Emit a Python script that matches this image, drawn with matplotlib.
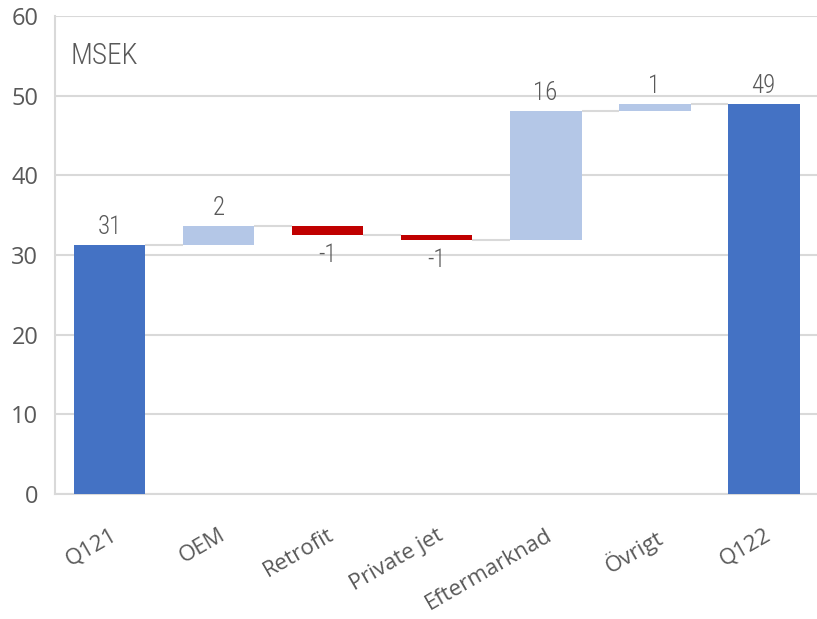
import matplotlib.pyplot as plt
from matplotlib import font_manager
import numpy as np

categories = ["Q121", "OEM", "Retrofit", "Private jet", "Eftermarknad", "Övrigt", "Q122"]
start_value = 31.3
deltas = [2.4, -1.2, -0.6, 16.2, 0.9]
end_value = 49.0
labels = ["31", "2", "-1", "-1", "16", "1", "49"]

total_color = "#4472C4"
up_color = "#B4C7E7"
down_color = "#C00000"
text_color = "#595959"
grid_color = "#D9D9D9"

# pick a narrow font for the data labels / unit text if one is installed
installed = {f.name for f in font_manager.fontManager.ttflist}
narrow = "Open Sans"
for cand in ["Liberation Sans Narrow", "Roboto Condensed", "Open Sans Condensed", "Noto Sans Display"]:
    if cand in installed:
        narrow = cand
        break

# running totals for the floating bars
running = np.concatenate([[start_value], start_value + np.cumsum(deltas)])
bottoms = [0] + list(np.minimum(running[:-1], running[1:])) + [0]
heights = [start_value] + [abs(d) for d in deltas] + [end_value]
colors = [total_color] + [up_color if d > 0 else down_color for d in deltas] + [total_color]
levels = list(running) + [end_value]

fig = plt.figure(figsize=(8.17, 6.19), dpi=100)
ax = fig.add_axes([0.0673, 0.202, 0.934, 0.772])

x = np.arange(len(categories))
width = 0.66
ax.bar(x, heights, bottom=bottoms, width=width, color=colors, zorder=3)

# connectors between bars
for i in range(len(categories) - 1):
    ax.hlines(levels[i], x[i] + width / 2, x[i + 1] - width / 2,
              color=grid_color, linewidth=1.5, zorder=2)

# value labels
lab_kw = dict(textcoords="offset points", ha="center", fontsize=18, color=text_color,
              family=narrow, fontstretch="condensed", fontweight="light")
for i in range(len(categories)):
    top = bottoms[i] + heights[i]
    is_neg = 0 < i < len(categories) - 1 and deltas[i - 1] < 0
    if is_neg:
        ax.annotate(labels[i], (x[i], bottoms[i]), xytext=(0, -6), va="top", **lab_kw)
    else:
        ax.annotate(labels[i], (x[i], top), xytext=(0, 4), va="bottom", **lab_kw)

ax.set_xlim(-0.5, len(categories) - 0.5)
ax.set_ylim(0, 60)
ax.set_yticks(np.arange(0, 61, 10))
ax.set_xticks(x)
ax.set_xticklabels(categories, rotation=30, ha="right", rotation_mode="anchor",
                   fontsize=16, color=text_color, family="Open Sans")
ax.tick_params(axis="y", labelsize=17, labelcolor=text_color, length=0, pad=12)
ax.tick_params(axis="x", length=0, pad=22)
for lbl in ax.get_yticklabels():
    lbl.set_family("Open Sans")
ax.yaxis.grid(True, color=grid_color, linewidth=1.5, zorder=0)
ax.set_axisbelow(True)
for s in ["top", "right"]:
    ax.spines[s].set_visible(False)
for s in ["left", "bottom"]:
    ax.spines[s].set_color(grid_color)
    ax.spines[s].set_linewidth(1.5)

ax.text(0.02, 0.945, "MSEK", transform=ax.transAxes, fontsize=21, color=text_color,
        family=narrow, fontstretch="condensed", fontweight="light", va="top", ha="left")

fig.savefig("out.png", dpi=100)
